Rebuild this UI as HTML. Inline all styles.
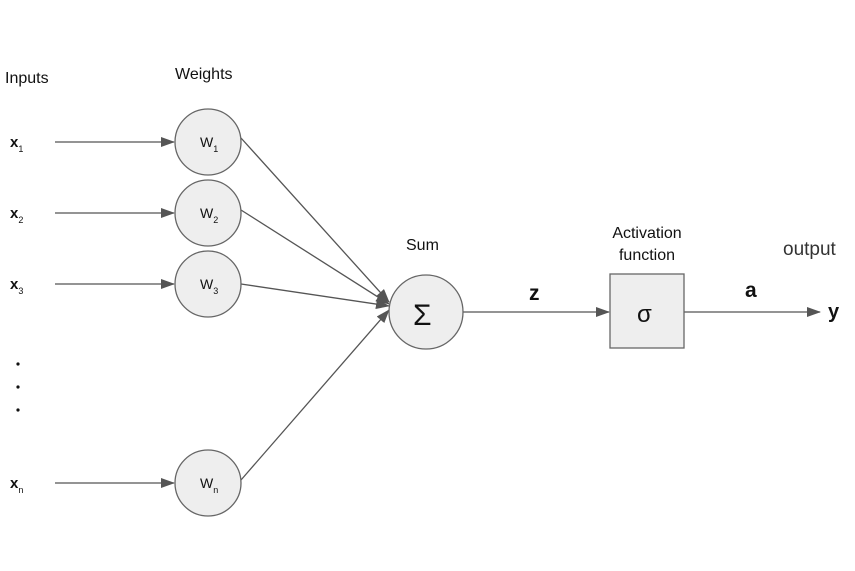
<!DOCTYPE html>
<html><head><style>body{margin:0;background:#fff}</style></head><body>
<svg width="855" height="566" viewBox="0 0 855 566" xmlns="http://www.w3.org/2000/svg" font-family="Liberation Sans, sans-serif">
<defs><marker id="a" markerWidth="14" markerHeight="10" refX="13" refY="5" orient="auto" markerUnits="userSpaceOnUse"><path d="M0,0 L14,5 L0,10 z" fill="#555"/></marker></defs>
<g stroke="#555" stroke-width="1.3" fill="none">
<line x1="55" y1="142" x2="174" y2="142" marker-end="url(#a)"/>
<line x1="55" y1="213" x2="174" y2="213" marker-end="url(#a)"/>
<line x1="55" y1="284" x2="174" y2="284" marker-end="url(#a)"/>
<line x1="55" y1="483" x2="174" y2="483" marker-end="url(#a)"/>
<line x1="241" y1="138" x2="389" y2="302" marker-end="url(#a)"/>
<line x1="241" y1="210" x2="389" y2="304" marker-end="url(#a)"/>
<line x1="241" y1="284" x2="389" y2="306" marker-end="url(#a)"/>
<line x1="241" y1="480" x2="389" y2="310" marker-end="url(#a)"/>
<line x1="463" y1="312" x2="609" y2="312" marker-end="url(#a)"/>
<line x1="684" y1="312" x2="820" y2="312" marker-end="url(#a)"/>
</g>
<g fill="#eee" stroke="#666" stroke-width="1.3">
<circle cx="208" cy="142" r="33"/><circle cx="208" cy="213" r="33"/><circle cx="208" cy="284" r="33"/><circle cx="208" cy="483" r="33"/>
<circle cx="426" cy="312" r="37"/>
<rect x="610" y="274" width="74" height="74"/>
</g>
<g fill="#111" font-size="16">
<text x="5" y="83">Inputs</text>
<text x="175" y="79">Weights</text>
<text x="406" y="250">Sum</text>
<text x="647" y="238" text-anchor="middle">Activation</text>
<text x="647" y="260" text-anchor="middle">function</text>
<text x="783" y="255" font-size="19" fill="#333">output</text>
<text x="529" y="300" font-size="21" font-weight="bold">z</text>
<text x="745" y="297" font-size="21" font-weight="bold">a</text>
<text x="828" y="318" font-size="20" font-weight="bold">y</text>
<text x="637" y="322" font-size="24">σ</text>
<text x="413" y="325" font-size="30">Σ</text>
<g font-size="15" font-weight="bold"><text x="10" y="147">x<tspan font-size="9" font-weight="normal" dy="5">1</tspan></text>
<text x="10" y="218">x<tspan font-size="9" font-weight="normal" dy="5">2</tspan></text>
<text x="10" y="289">x<tspan font-size="9" font-weight="normal" dy="5">3</tspan></text>
<text x="10" y="488">x<tspan font-size="9" font-weight="normal" dy="5">n</tspan></text></g>
<g font-size="14"><text x="200" y="147">W<tspan font-size="9" dy="5">1</tspan></text>
<text x="200" y="218">W<tspan font-size="9" dy="5">2</tspan></text>
<text x="200" y="289">W<tspan font-size="9" dy="5">3</tspan></text>
<text x="200" y="488">W<tspan font-size="9" dy="5">n</tspan></text></g>
</g>
<g fill="#111"><circle cx="18" cy="364" r="1.6"/><circle cx="18" cy="387" r="1.6"/><circle cx="18" cy="410" r="1.6"/></g>
</svg>
</body></html>
